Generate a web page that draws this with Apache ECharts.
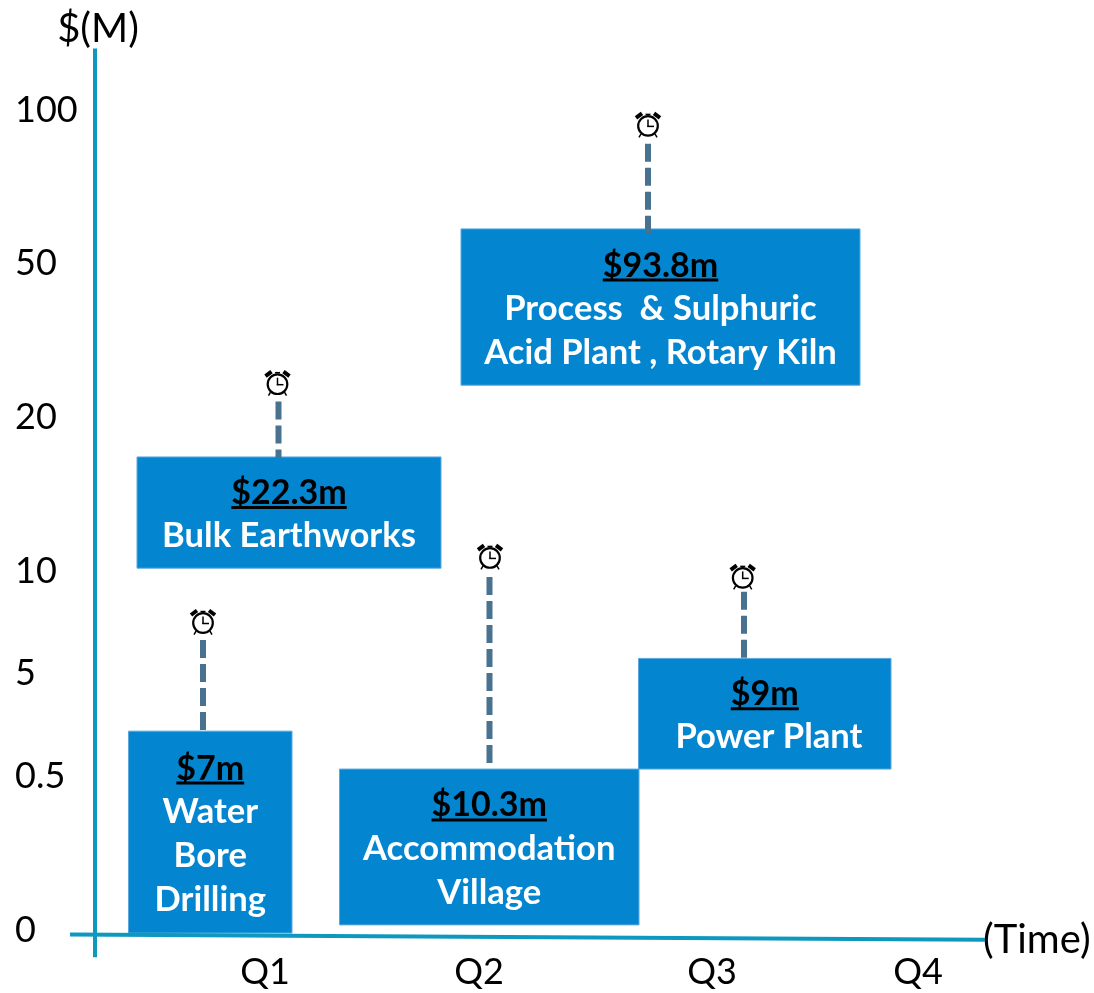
<!DOCTYPE html>
<html>
<head>
<meta charset="utf-8">
<style>html,body{margin:0;padding:0;background:#fff}#c{width:1094px;height:993px}</style>
<script src="https://cdn.jsdelivr.net/npm/echarts@6/dist/echarts.min.js"></script>
</head>
<body>
<div id="c"></div>
<script>
// y axis is a non-uniform tier scale: tier position -> printed $M tick
const yTickTiers = [0, 3, 5, 7, 10, 13, 16];
const yTickLabels = ['0', '0.5', '5', '10', '20', '50', '100'];
// x axis: time position -> quarter label
const xTickPositions = [195, 409, 642, 848];
const xTickLabels = ['Q1', 'Q2', 'Q3', 'Q4'];

// work packages
const amounts = ['$7m', '$10.3m', '$9m', '$22.3m', '$93.8m'];
const packageNames = [
  ['Water', 'Bore', 'Drilling'],
  ['Accommodation', 'Village'],
  [' Power Plant'],
  ['Bulk Earthworks'],
  ['Process  & Sulphuric', 'Acid Plant , Rotary Kiln']
];
const startTime = [58.5, 269.5, 568.5, 67, 391];
const endTime = [222, 569, 821, 371, 790];
const lowTier = [-0.06, 0.10, 3.14, 7.06, 10.63];
const highTier = [3.88, 3.14, 5.30, 9.23, 13.68];

// dashed leaders and clocks above the boxes
const leaderTime = [133, 419.5, 674, 208.5, 578];
const leaderLow = [3.88, 3.26, 5.28, 9.21, 13.60];
const leaderHigh = [5.66, 6.89, 6.60, 10.31, 15.34];
const clockTime = [133, 420, 672.7, 207.5, 578];
const clockTier = [5.99, 7.26, 6.87, 10.65, 15.69];

// axis rules
const yRule = [[25, 17.2], [25, -0.53]];
const xRule = [[0, -0.09], [915, -0.19]];

const AXIS = '#0d98bf', BOX = '#0485cf', BOXEDGE = '#5aa9de', DASH = '#49728f';
const FONT = 'Lato, Carlito, sans-serif';
const NUM = 34, BODY = 34.6;

function measure(text, font) {
  const ctx = document.createElement('canvas').getContext('2d');
  ctx.font = font;
  return ctx.measureText(text).width;
}

function renderBox(params, api) {
  const i = api.value(0);
  const p0 = api.coord([api.value(1), api.value(4)]);
  const p1 = api.coord([api.value(2), api.value(3)]);
  const cx = (p0[0] + p1[0]) / 2, cy = (p0[1] + p1[1]) / 2 + 1.5;
  const lines = [amounts[i]].concat(packageNames[i]);
  const step = 44;
  const top = cy - (lines.length - 1) * step / 2;
  const children = [{
    type: 'rect',
    shape: {x: p0[0], y: p0[1], width: p1[0] - p0[0], height: p1[1] - p0[1]},
    style: {fill: BOX, stroke: BOXEDGE, lineWidth: 1}
  }];
  lines.forEach((t, k) => {
    const y = top + k * step + (k === 0 ? 1 : 0);
    const font = 'bold ' + (k === 0 ? NUM : BODY) + 'px ' + FONT;
    children.push({
      type: 'text',
      style: {text: t, x: cx, y: y, align: 'center', verticalAlign: 'middle',
        font: font, fill: k === 0 ? '#000' : '#fff'}
    });
    if (k === 0) {
      const w = measure(t, font);
      children.push({
        type: 'rect',
        shape: {x: cx - w / 2, y: y + 13, width: w, height: 3},
        style: {fill: '#000'}
      });
    }
  });
  return {type: 'group', children};
}

function renderLeader(params, api) {
  const a = api.coord([api.value(0), api.value(2)]);
  const b = api.coord([api.value(0), api.value(1)]);
  return {
    type: 'line',
    shape: {x1: a[0], y1: a[1], x2: b[0], y2: b[1]},
    style: {stroke: DASH, lineWidth: 6, lineDash: [18, 6]}
  };
}

function renderClock(params, api) {
  const c = api.coord([api.value(0), api.value(1)]);
  const s = {stroke: '#000', fill: null, lineWidth: 2.2};
  const seg = (x1, y1, x2, y2, lw) => ({
    type: 'line', shape: {x1, y1, x2, y2},
    style: {stroke: '#000', lineWidth: lw}
  });
  return {
    type: 'group', x: c[0], y: c[1],
    children: [
      {type: 'circle', shape: {cx: 0, cy: 0, r: 9.8}, style: Object.assign({}, s)},
      seg(0, -6.5, 0, 1, 1.5), seg(-0.7, 0.5, 6, 0.5, 1.5),
      seg(-12, -8, -6, -12.5, 4), seg(12, -8, 6, -12.5, 4),
      seg(-2.5, -11.5, 2.5, -11.5, 1.5),
      seg(-7, 8, -9, 11.5, 1.5), seg(7, 8, 9, 11.5, 1.5)
    ]
  };
}

const chart = echarts.init(document.getElementById('c'), null, {renderer: 'canvas'});
chart.setOption({
  animation: false,
  backgroundColor: '#fff',
  grid: {left: 70, right: 109, top: 7.5, bottom: 63, outerBoundsMode: 'none'},
  xAxis: {
    type: 'value', min: 0, max: 915, splitLine: {show: false},
    axisLine: {show: false}, axisTick: {show: false},
    name: '(Time)', nameLocation: 'end', nameGap: -2,
    nameTextStyle: {fontFamily: FONT, fontSize: 40, color: '#000', verticalAlign: 'top', lineHeight: 20},
    axisLabel: {
      customValues: xTickPositions,
      formatter: v => xTickLabels[xTickPositions.indexOf(v)],
      fontFamily: FONT, fontSize: 36, color: '#000', margin: 24
    }
  },
  yAxis: {
    type: 'value', min: 0, max: 18, splitLine: {show: false},
    axisLine: {show: false}, axisTick: {show: false},
    name: '$(M)', nameLocation: 'end', nameGap: -42,
    nameTextStyle: {fontFamily: FONT, fontSize: 40, color: '#000', padding: [0, 0, 0, 56]},
    axisLabel: {
      customValues: yTickTiers,
      formatter: v => yTickLabels[yTickTiers.indexOf(v)],
      fontFamily: FONT, fontSize: 36, color: '#000', margin: 55, align: 'left'
    }
  },
  series: [
    {type: 'line', data: yRule, symbol: 'none', clip: false, silent: true,
      lineStyle: {color: AXIS, width: 4}},
    {type: 'line', data: xRule, symbol: 'none', clip: false, silent: true,
      lineStyle: {color: AXIS, width: 4}},
    {type: 'custom', renderItem: renderBox, silent: true,
      encode: {x: [1, 2], y: [3, 4]},
      data: amounts.map((_, i) => [i, startTime[i], endTime[i], lowTier[i], highTier[i]])},
    {type: 'custom', renderItem: renderLeader, silent: true,
      encode: {x: 0, y: [1, 2]},
      data: leaderTime.map((t, i) => [t, leaderLow[i], leaderHigh[i]])},
    {type: 'custom', renderItem: renderClock, silent: true,
      encode: {x: 0, y: 1},
      data: clockTime.map((t, i) => [t, clockTier[i]])}
  ]
});
</script>
</body>
</html>
